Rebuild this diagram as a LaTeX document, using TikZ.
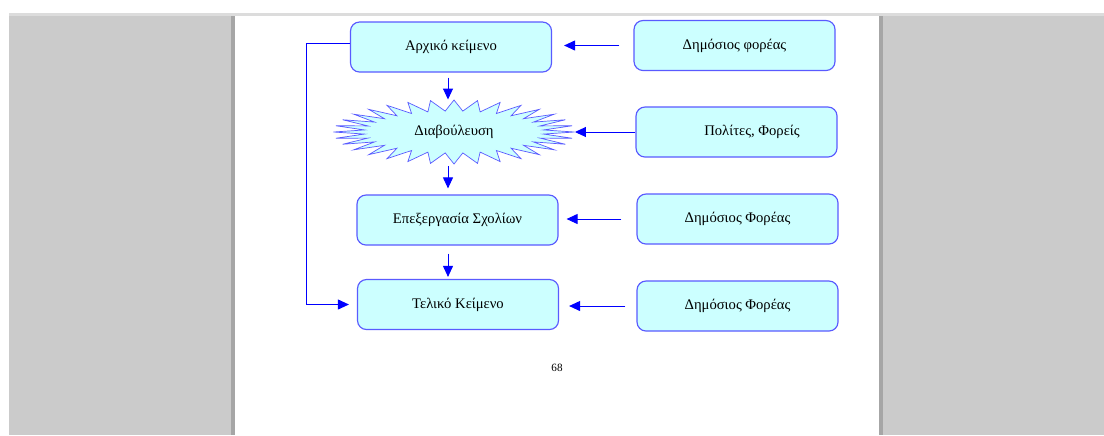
\documentclass[tikz,border=0pt]{standalone}
\usepackage{fontspec}
\setmainfont{Liberation Serif}
\usepackage{xcolor}
\usepackage{tikz}
\usetikzlibrary{calc, arrows.meta, shapes.geometric}

\definecolor{boxfill}{HTML}{CCFFFF}
\definecolor{boxline}{HTML}{5A5AFF}
\definecolor{pagegray}{HTML}{CBCBCB}
\definecolor{edgegray}{HTML}{A6A6A6}
\definecolor{topgray}{HTML}{DCDCDC}

\begin{document}
\begin{tikzpicture}[x=0.03cm, y=-0.03cm, >={Triangle[length=3.3mm, width=3mm]},
			line width=0.8pt,
			block/.style={draw=boxline, fill=boxfill, line width=1pt, rounded corners=0.27cm,
				minimum width=6.03cm, minimum height=1.5cm, font=\fontsize{12.5}{15}\selectfont},
			flow/.style={->, draw=blue}]
		\useasboundingbox (0,0) rectangle (1104,435);
		\fill[white] (0,0) rectangle (1104,435);
		\fill[topgray] (9,13) rectangle (1104,16);
		\fill[pagegray] (9,16) rectangle (1104,435);
		\fill[edgegray] (231,16) rectangle (235,435);
		\fill[edgegray] (879,16) rectangle (883,435);
		\fill[white] (235,16) rectangle (879,435);

		\node[block] at (451,47) (arx) {Αρχικό κείμενο};
		\node[block] at (734.5,45.5) (pub1) {Δημόσιος φορέας};

		\draw[draw=boxline, fill=boxfill, line width=0.6pt] (454,132) +(0:120.5 and 32)
			\foreach \i [evaluate=\i as \rx using {isodd(\i) ? 90 : 120.5},
				evaluate=\i as \ry using {isodd(\i) ? 21 : 32}] in {1,...,63}
				{ -- +(\i*5.625:{\rx} and {\ry}) } -- cycle;
		\node[ellipse, minimum width=7.23cm, minimum height=1.92cm,
			font=\fontsize{12.5}{15}\selectfont] at (454,132) (dia) {Διαβούλευση};
		\node[block] at (736.5,132) (pol) {\hspace*{0.93cm}Πολίτες, Φορείς};

		\node[block] at (457.5,220) (epx) {Επεξεργασία Σχολίων};
		\node[block] at (737.5,219) (pub2) {Δημόσιος Φορέας};

		\node[block] at (458,304.5) (tel) {Τελικό Κείμενο};
		\node[block] at (737.5,306) (pub3) {Δημόσιος Φορέας};

		\node[font=\fontsize{9.5}{11}\selectfont] at (557,368) (pnum) {68};

		\coordinate (spine) at (448,0);
		\coordinate (loop) at (306,43);

		\draw[flow, shorten <=0.42cm, shorten >=0.36cm] (pub1.west) -- (pub1.west -| arx.east);
		\draw[flow] (pol.west) -- (pol.west -| dia.east);
		\draw[flow, shorten <=0.45cm, shorten >=0.24cm] (pub2.west) -- (pub2.west -| epx.east);
		\draw[flow, shorten <=0.33cm, shorten >=0.3cm] (pub3.west) -- (pub3.west -| tel.east);

		\draw[flow, shorten <=0.15cm] (arx.south -| spine) -- (dia.north -| spine);
		\draw[flow, shorten <=0.06cm, shorten >=0.18cm] (dia.south -| spine) -- (epx.north -| spine);
		\draw[flow, shorten <=0.24cm, shorten >=0.06cm] (epx.south -| spine) -- (tel.north -| spine);
		\draw[flow, shorten >=0.24cm] (arx.west |- loop) -- (loop) |- (tel.west);
	\end{tikzpicture}
\end{document}
